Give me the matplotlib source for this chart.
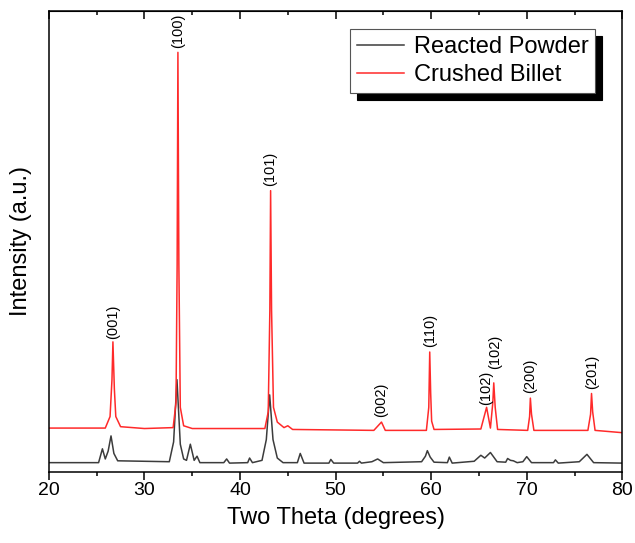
import matplotlib
matplotlib.use("Agg")
import matplotlib.pyplot as plt
from matplotlib.ticker import MultipleLocator

plt.rcParams['font.family'] = ['Liberation Sans', 'DejaVu Sans']

# Reacted Powder (black), arbitrary intensity units
powder_x = [20, 25.2, 25.6, 25.9, 26.2, 26.5, 26.8, 27.2, 32.6, 33.05, 33.4, 33.75, 34.1,
            34.4, 34.8, 35.2, 35.5, 35.8, 38.3, 38.6, 38.9, 40.8, 41.0, 41.3, 42.3,
            42.75, 43.1, 43.45, 43.9, 44.5, 46.0, 46.3, 46.7, 49.3, 49.5, 49.8, 52.3,
            52.5, 52.7, 53.8, 54.4, 55.0, 59.0, 59.4, 59.6, 59.9, 60.3, 61.7, 61.9,
            62.2, 64.5, 65.2, 65.6, 66.2, 66.9, 67.8, 68.0, 68.3, 68.6, 69.0, 69.6,
            70.0, 70.5, 72.8, 73.0, 73.3, 75.5, 76.3, 77.0, 80]
powder_y = [2.0, 2.0, 5.0, 2.8, 4.5, 7.8, 4.0, 2.4, 2.2, 6.5, 20.0, 6.0, 2.8,
            2.5, 6.0, 2.5, 3.4, 2.0, 2.0, 2.8, 1.9, 2.0, 3.0, 2.0, 2.5,
            7.0, 16.7, 7.0, 3.0, 2.0, 2.0, 4.0, 1.9, 1.9, 2.7, 1.9, 1.9,
            2.3, 1.9, 2.2, 2.8, 2.0, 2.2, 3.4, 4.6, 3.2, 2.1, 2.0, 3.2,
            1.9, 2.3, 3.6, 3.0, 4.2, 2.2, 2.1, 2.9, 2.5, 2.4, 2.0, 2.2,
            3.3, 2.0, 2.0, 2.6, 1.9, 2.2, 3.8, 2.0, 1.9]

# Crushed Billet (red)
billet_x = [20, 25.9, 26.4, 26.6, 26.7, 26.85, 27.0, 27.5, 30, 33.0, 33.3, 33.42,
            33.5, 33.6, 33.75, 34.1, 35.0, 42.6, 42.95, 43.12, 43.2, 43.3, 43.5,
            43.9, 44.6, 45.0, 45.5, 54.0, 54.8, 55.2, 59.5, 59.75, 59.85, 59.95,
            60.05, 60.3, 65.2, 65.8, 66.2, 66.45, 66.55, 66.7, 66.95, 70.1, 70.3,
            70.38, 70.5, 70.75, 76.4, 76.68, 76.78, 76.9, 77.15, 80]
billet_y = [9.5, 9.5, 12.0, 20.0, 28.2, 18.0, 12.0, 9.8, 9.4, 9.6, 15.0, 45.0,
            91.0, 45.0, 14.0, 10.0, 9.4, 9.4, 13.0, 35.0, 61.0, 35.0, 14.0,
            10.8, 9.6, 10.0, 9.2, 9.0, 10.8, 9.0, 9.0, 14.0, 26.0, 17.0,
            11.0, 9.2, 9.3, 14.0, 9.5, 15.0, 19.3, 14.0, 9.2, 9.0, 12.0,
            16.0, 12.5, 9.0, 9.0, 12.5, 17.0, 13.0, 9.0, 8.5]

# peak labels: text, two-theta, label base height
peak_labels = ['(001)', '(100)', '(101)', '(002)', '(110)', '(102)', '(102)', '(200)', '(201)']
peak_x = [26.7, 33.5, 43.2, 54.8, 59.9, 65.8, 66.7, 70.4, 76.8]
peak_y = [28.8, 92.0, 62.0, 11.8, 27.0, 14.6, 22.3, 17.2, 17.9]

fig = plt.figure(figsize=(6.35, 5.43), dpi=100)
ax = fig.add_axes([0.077, 0.131, 0.903, 0.849])

ax.plot(powder_x, powder_y, color='#3c3c3c', lw=1.1, label='Reacted Powder')
ax.plot(billet_x, billet_y, color='#ff2a2a', lw=1.1, label='Crushed Billet')

for txt, px, py in zip(peak_labels, peak_x, peak_y):
    ax.text(px, py, txt, rotation=90, ha='center', va='bottom', fontsize=10.5)

ax.set_xlim(20, 80)
ax.set_ylim(0, 100)
ax.set_yticks([])
ax.xaxis.set_major_locator(MultipleLocator(10))
ax.xaxis.set_minor_locator(MultipleLocator(5))
ax.tick_params(axis='x', which='major', direction='out', length=6, width=1.1,
               labelsize=14, pad=1)
ax.tick_params(axis='x', which='minor', direction='out', length=3, width=1.1)
for s in ax.spines.values():
    s.set_linewidth(1.1)

top = ax.secondary_xaxis('top')
top.xaxis.set_major_locator(MultipleLocator(10))
top.xaxis.set_minor_locator(MultipleLocator(5))
top.tick_params(axis='x', which='major', direction='in', length=6, width=1.1, labeltop=False)
top.tick_params(axis='x', which='minor', direction='in', length=3, width=1.1)

ax.set_xlabel('Two Theta (degrees)', fontsize=17, labelpad=6)
ax.set_ylabel('Intensity (a.u.)', fontsize=17, labelpad=12)

leg = ax.legend(loc='upper right', bbox_to_anchor=(0.953, 0.961), borderaxespad=0,
                fontsize=17, fancybox=False, frameon=True, handlelength=2.0,
                labelspacing=0.25, borderpad=0.3, handletextpad=0.4,
                shadow={'ox': 5, 'oy': -5, 'color': 'black', 'alpha': 1})
leg.get_frame().set_edgecolor('#555555')
leg.get_frame().set_linewidth(0.8)
leg.get_frame().set_alpha(1)

fig.savefig('out.png', dpi=100)
